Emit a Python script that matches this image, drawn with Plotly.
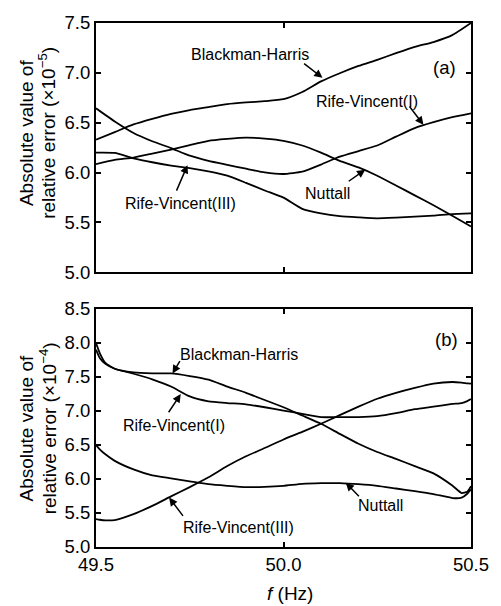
import plotly.graph_objects as go

# ---------------- data ----------------
freq_a = [49.5, 49.55, 49.6, 49.65, 49.7, 49.75, 49.8, 49.85, 49.9, 49.95, 50.0,
          50.05, 50.1, 50.15, 50.2, 50.25, 50.3, 50.35, 50.4, 50.45, 50.5]
bh_a = [6.33, 6.406, 6.482, 6.538, 6.588, 6.627, 6.657, 6.686, 6.703, 6.716, 6.736,
        6.808, 6.914, 6.996, 7.069, 7.131, 7.197, 7.26, 7.309, 7.378, 7.5]
rv1_a = [6.644, 6.512, 6.397, 6.314, 6.245, 6.169, 6.117, 6.077, 6.038, 6.001, 5.985,
         6.008, 6.08, 6.159, 6.215, 6.271, 6.36, 6.446, 6.505, 6.555, 6.594]
nut_a = [6.084, 6.126, 6.15, 6.189, 6.229, 6.275, 6.318, 6.337, 6.35, 6.34, 6.318,
         6.271, 6.199, 6.117, 6.051, 5.968, 5.87, 5.771, 5.672, 5.567, 5.458]
rv3_a = [6.199, 6.196, 6.143, 6.103, 6.07, 6.044, 6.011, 5.968, 5.896, 5.82, 5.748,
         5.636, 5.59, 5.563, 5.55, 5.54, 5.547, 5.557, 5.567, 5.583, 5.59]

freq_b = [49.5, 49.51, 49.525, 49.55, 49.6, 49.65, 49.7, 49.75, 49.8, 49.85, 49.9,
          49.95, 50.0, 50.05, 50.1, 50.15, 50.2, 50.25, 50.3, 50.35, 50.4, 50.45,
          50.475, 50.49, 50.5]
bh_b = [7.993, 7.848, 7.703, 7.617, 7.563, 7.549, 7.549, 7.51, 7.457, 7.356, 7.264,
        7.158, 7.052, 6.931, 6.81, 6.661, 6.516, 6.395, 6.294, 6.188, 6.081, 5.903,
        5.792, 5.811, 5.893]
rv1_b = [7.897, 7.776, 7.689, 7.617, 7.544, 7.462, 7.356, 7.211, 7.139, 7.114, 7.095,
         7.052, 7.003, 6.955, 6.907, 6.907, 6.907, 6.921, 6.965, 7.023, 7.061, 7.1,
         7.114, 7.143, 7.172]
nut_b = [6.496, 6.434, 6.361, 6.265, 6.139, 6.052, 6.009, 5.965, 5.922, 5.898, 5.879,
         5.883, 5.898, 5.927, 5.937, 5.937, 5.922, 5.898, 5.859, 5.821, 5.777, 5.719,
         5.724, 5.782, 5.845]
rv3_b = [5.41, 5.4, 5.391, 5.396, 5.483, 5.603, 5.743, 5.879, 6.023, 6.188, 6.332,
         6.453, 6.579, 6.69, 6.81, 6.936, 7.061, 7.177, 7.264, 7.337, 7.4, 7.423,
         7.414, 7.404, 7.399]

x_ticks = [49.5, 50.0, 50.5]
y_ticks_a = [5.0, 5.5, 6.0, 6.5, 7.0, 7.5]
y_ticks_b = [5.0, 5.5, 6.0, 6.5, 7.0, 7.5, 8.0, 8.5]

# label text, label position, arrow tail, arrow head (data coords)
labels_a = [
    ("Blackman-Harris", 49.911, 7.187, 50.051, 7.105, 50.104, 6.95),
    ("Rife-Vincent(I)", 50.223, 6.71, 50.333, 6.677, 50.373, 6.479),
    ("Nuttall", 50.117, 5.787, 50.17, 5.902, 50.218, 6.028),
    ("Rife-Vincent(III)", 49.726, 5.689, 49.713, 5.803, 49.744, 6.074),
]
labels_b = [
    ("Blackman-Harris", 49.88, 7.824, 49.726, 7.752, 49.704, 7.549),
    ("Rife-Vincent(I)", 49.708, 6.788, 49.691, 6.956, 49.726, 7.245),
    ("Rife-Vincent(III)", 49.88, 5.292, 49.735, 5.435, 49.695, 5.726),
    ("Nuttall", 50.258, 5.606, 50.205, 5.723, 50.166, 5.943),
]

# ---------------- figure ----------------
W, H = 501, 606
L, R, T, B = 96, 26, 15, 59
plot_h = H - T - B

def ypaper(py):
    return (H - B - py) / plot_h

def xpaper(px):
    return (px - L) / (W - L - R)

fig = go.Figure()
line = dict(color="black", width=1.8, shape="spline", smoothing=0.5)
for ys in (bh_a, rv1_a, nut_a, rv3_a):
    fig.add_trace(go.Scatter(x=freq_a, y=ys, mode="lines", line=line,
                             xaxis="x", yaxis="y", showlegend=False, hoverinfo="skip"))
for ys in (bh_b, rv1_b, nut_b, rv3_b):
    fig.add_trace(go.Scatter(x=freq_b, y=ys, mode="lines", line=line,
                             xaxis="x2", yaxis="y2", showlegend=False, hoverinfo="skip"))

FONT = "Liberation Sans, Arial, sans-serif"
tickfont = dict(family=FONT, size=18.5, color="black")
axis_common = dict(showline=True, linecolor="black", linewidth=2, mirror="ticks",
                   ticks="inside", ticklen=5, tickwidth=1.5, tickcolor="black",
                   showgrid=False, zeroline=False, tickfont=tickfont)

fig.update_layout(
    width=W, height=H, margin=dict(l=L, r=R, t=T, b=B),
    paper_bgcolor="white", plot_bgcolor="white",
    xaxis=dict(axis_common, range=[49.5, 50.5], tickvals=x_ticks, showticklabels=False,
               anchor="y", domain=[0, 1]),
    yaxis=dict(axis_common, range=[5.0, 7.5], tickvals=y_ticks_a, tickformat=".1f",
               anchor="x", domain=[ypaper(268), 1]),
    xaxis2=dict(axis_common, range=[49.5, 50.5], tickvals=x_ticks, tickformat=".1f",
                anchor="y2", domain=[0, 1]),
    yaxis2=dict(axis_common, range=[5.0, 8.5], tickvals=y_ticks_b, tickformat=".1f",
                anchor="x2", domain=[0, ypaper(305)]),
)

afont = dict(family=FONT, size=16, color="black")
ann = []
for (txt, lx, ly, tx, ty, hx, hy), (xr, yr) in [(l, ("x", "y")) for l in labels_a] + \
                                              [(l, ("x2", "y2")) for l in labels_b]:
    ann.append(dict(x=lx, y=ly, xref=xr, yref=yr, text=txt, showarrow=False, font=afont))
    ann.append(dict(x=hx, y=hy, xref=xr, yref=yr, ax=tx, ay=ty, axref=xr, ayref=yr,
                    text="", showarrow=True, arrowhead=2, arrowsize=1.1, arrowwidth=1.5,
                    arrowcolor="black"))

ann.append(dict(x=50.43, y=7.055, xref="x", yref="y", text="(a)", showarrow=False,
                font=dict(afont, size=18.5)))
ann.append(dict(x=50.434, y=8.041, xref="x2", yref="y2", text="(b)", showarrow=False,
                font=dict(afont, size=18.5)))

tfont = dict(family=FONT, size=19, color="black")
for cy, exp in [(127, "−5"), (427, "−4")]:
    ann.append(dict(x=xpaper(26), y=ypaper(cy), xref="paper", yref="paper",
                    text="Absolute value of", showarrow=False, textangle=-90, font=tfont,
                    xanchor="center", yanchor="middle"))
    ann.append(dict(x=xpaper(47), y=ypaper(cy), xref="paper", yref="paper",
                    text="relative error (×10<sup>%s</sup>)" % exp, showarrow=False,
                    textangle=-90, font=tfont, xanchor="center", yanchor="middle"))

ann.append(dict(x=xpaper(292), y=ypaper(594), xref="paper", yref="paper",
                text="<i>f</i> (Hz)", showarrow=False, font=tfont,
                xanchor="center", yanchor="middle"))

fig.update_layout(annotations=ann)
fig.write_html("out.html", config={"displayModeBar": False},
               post_script="document.body.style.margin='0';document.body.style.overflow='hidden';")
